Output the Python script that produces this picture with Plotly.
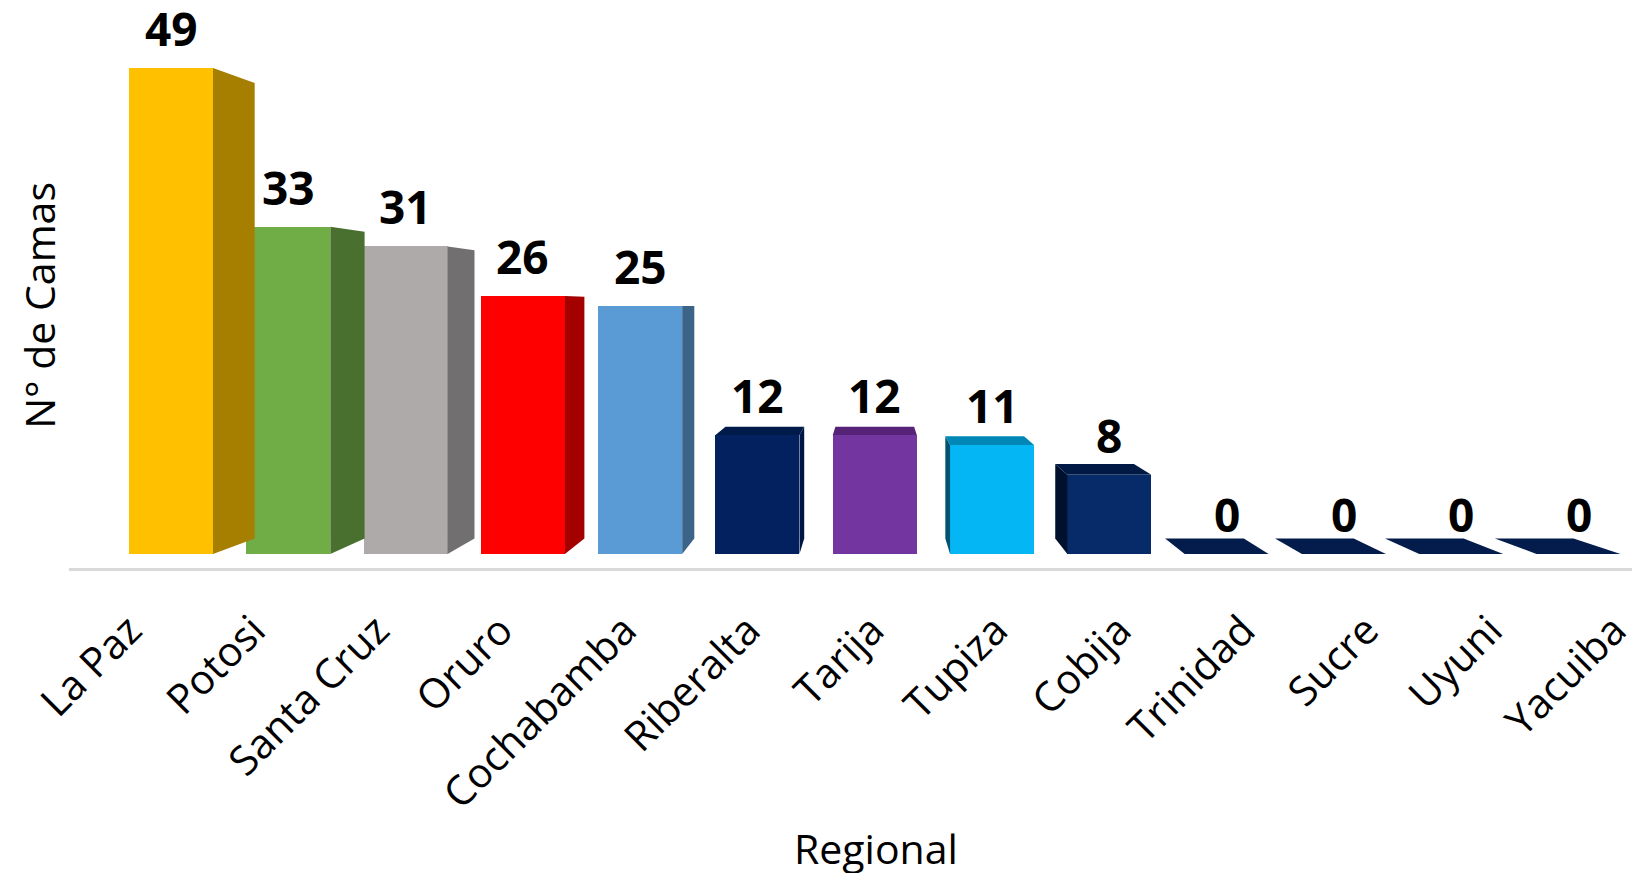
import plotly.graph_objects as go

# ---- data ----
categories = ["La Paz", "Potosi", "Santa Cruz", "Oruro", "Cochabamba", "Riberalta",
              "Tarija", "Tupiza", "Cobija", "Trinidad", "Sucre", "Uyuni", "Yacuiba"]
values = [49, 33, 31, 26, 25, 12, 12, 11, 8, 0, 0, 0, 0]
x_title = "Regional"
y_title = "N° de Camas"

# ---- styles ----
front_colors = ["#FFC000", "#70AD47", "#AEAAAA", "#FF0000", "#5B9BD5", "#03215E",
                "#7335A0", "#04B6F4", "#072A68", "#031C4C", "#031C4C", "#031C4C", "#031C4C"]
side_colors = ["#A67E00", "#4A7030", "#716F6F", "#A50000", "#3C6489", "#001642",
               "#552278", "#00526F", "#00112E", "#00112E", "#00112E", "#00112E", "#00112E"]
top_colors = ["#A67E00", "#4A7030", "#716F6F", "#A50000", "#3C6489", "#001A4A",
              "#552278", "#0087B5", "#001A45", "#031C4C", "#031C4C", "#031C4C", "#031C4C"]

BAR_W = 0.716      # front face width (category units)
VP_X = 6.0         # vanishing point (category units)
VP_Y = 25.0        # vanishing point (value units)
S = 0.937          # back-plane scale factor

FONT = "Open Sans"

def back(x, y):
    return VP_X + (x - VP_X) * S, VP_Y + (y - VP_Y) * S

fig = go.Figure()

idx = list(range(len(categories)))

# side / top faces
for i, v in zip(idx, values):
    xl, xr = i - BAR_W / 2, i + BAR_W / 2
    polys = []
    if xr < VP_X:
        bx0, by0 = back(xr, 0)
        bx1, by1 = back(xr, v)
        polys.append(([xr, xr, bx1, bx0, xr], [0, v, by1, by0, 0], side_colors[i]))
    if xl > VP_X:
        bx0, by0 = back(xl, 0)
        bx1, by1 = back(xl, v)
        polys.append(([xl, xl, bx1, bx0, xl], [0, v, by1, by0, 0], side_colors[i]))
    if v < VP_Y:
        bxl, byl = back(xl, v)
        bxr, byr = back(xr, v)
        polys.append(([xl, xr, bxr, bxl, xl], [v, v, byr, byl, v], top_colors[i]))
    for px, py, c in polys:
        fig.add_trace(go.Scatter(x=px, y=py, mode="lines", fill="toself",
                                 fillcolor=c, line=dict(width=0, color=c),
                                 hoverinfo="skip", showlegend=False,
                                 xaxis="x", yaxis="y"))

# front faces
fig.add_trace(go.Bar(x=idx, y=values, width=BAR_W, marker=dict(color=front_colors, line=dict(width=0)),
                     showlegend=False, hoverinfo="skip", xaxis="x", yaxis="y"))

# invisible trace for label axis
fig.add_trace(go.Scatter(x=idx, y=[0] * len(idx), mode="markers", marker=dict(opacity=0),
                         hoverinfo="skip", showlegend=False, xaxis="x2", yaxis="y"))

# value labels
for i, v in zip(idx, values):
    fig.add_annotation(x=i, y=v, xref="x", yref="y", text=f"<b>{v}</b>",
                       showarrow=False, yanchor="bottom", yshift=8, borderpad=0,
                       font=dict(family=FONT, size=46, color="black"))

fig.add_annotation(x=-0.0191, y=0.470, xref="paper", yref="paper", text=y_title,
                   textangle=-90, showarrow=False, xanchor="center", yanchor="middle",
                   font=dict(family=FONT, size=41, color="black"))
fig.add_annotation(x=0.514, y=-0.5, xref="paper", yref="paper", text=x_title,
                   showarrow=False, xanchor="center", yanchor="middle",
                   font=dict(family=FONT, size=41, color="black"))

fig.update_layout(
    width=1640, height=873, autosize=False,
    margin=dict(l=61, r=8, t=0, b=313),
    paper_bgcolor="white", plot_bgcolor="white",
    bargap=0,
    xaxis=dict(range=[-0.8696, 12.524], showgrid=False, zeroline=False,
               showticklabels=False, ticks="", showline=True, linecolor="#D9D9D9",
               linewidth=2.5, fixedrange=True),
    xaxis2=dict(range=[-0.49, 12.21], overlaying="x", side="bottom", anchor="y",
                tickmode="array", tickvals=idx, ticktext=categories, tickangle=-45,
                showgrid=False, zeroline=False, showline=False, ticks="",
                ticklabelstandoff=29, ticklabeloverflow="allow",
                tickfont=dict(family=FONT, size=41, color="black")),
    yaxis=dict(range=[-1.411, 55.04], showgrid=False, zeroline=False,
               showticklabels=False, ticks="", showline=False),
)

fig.write_html("out.html")
